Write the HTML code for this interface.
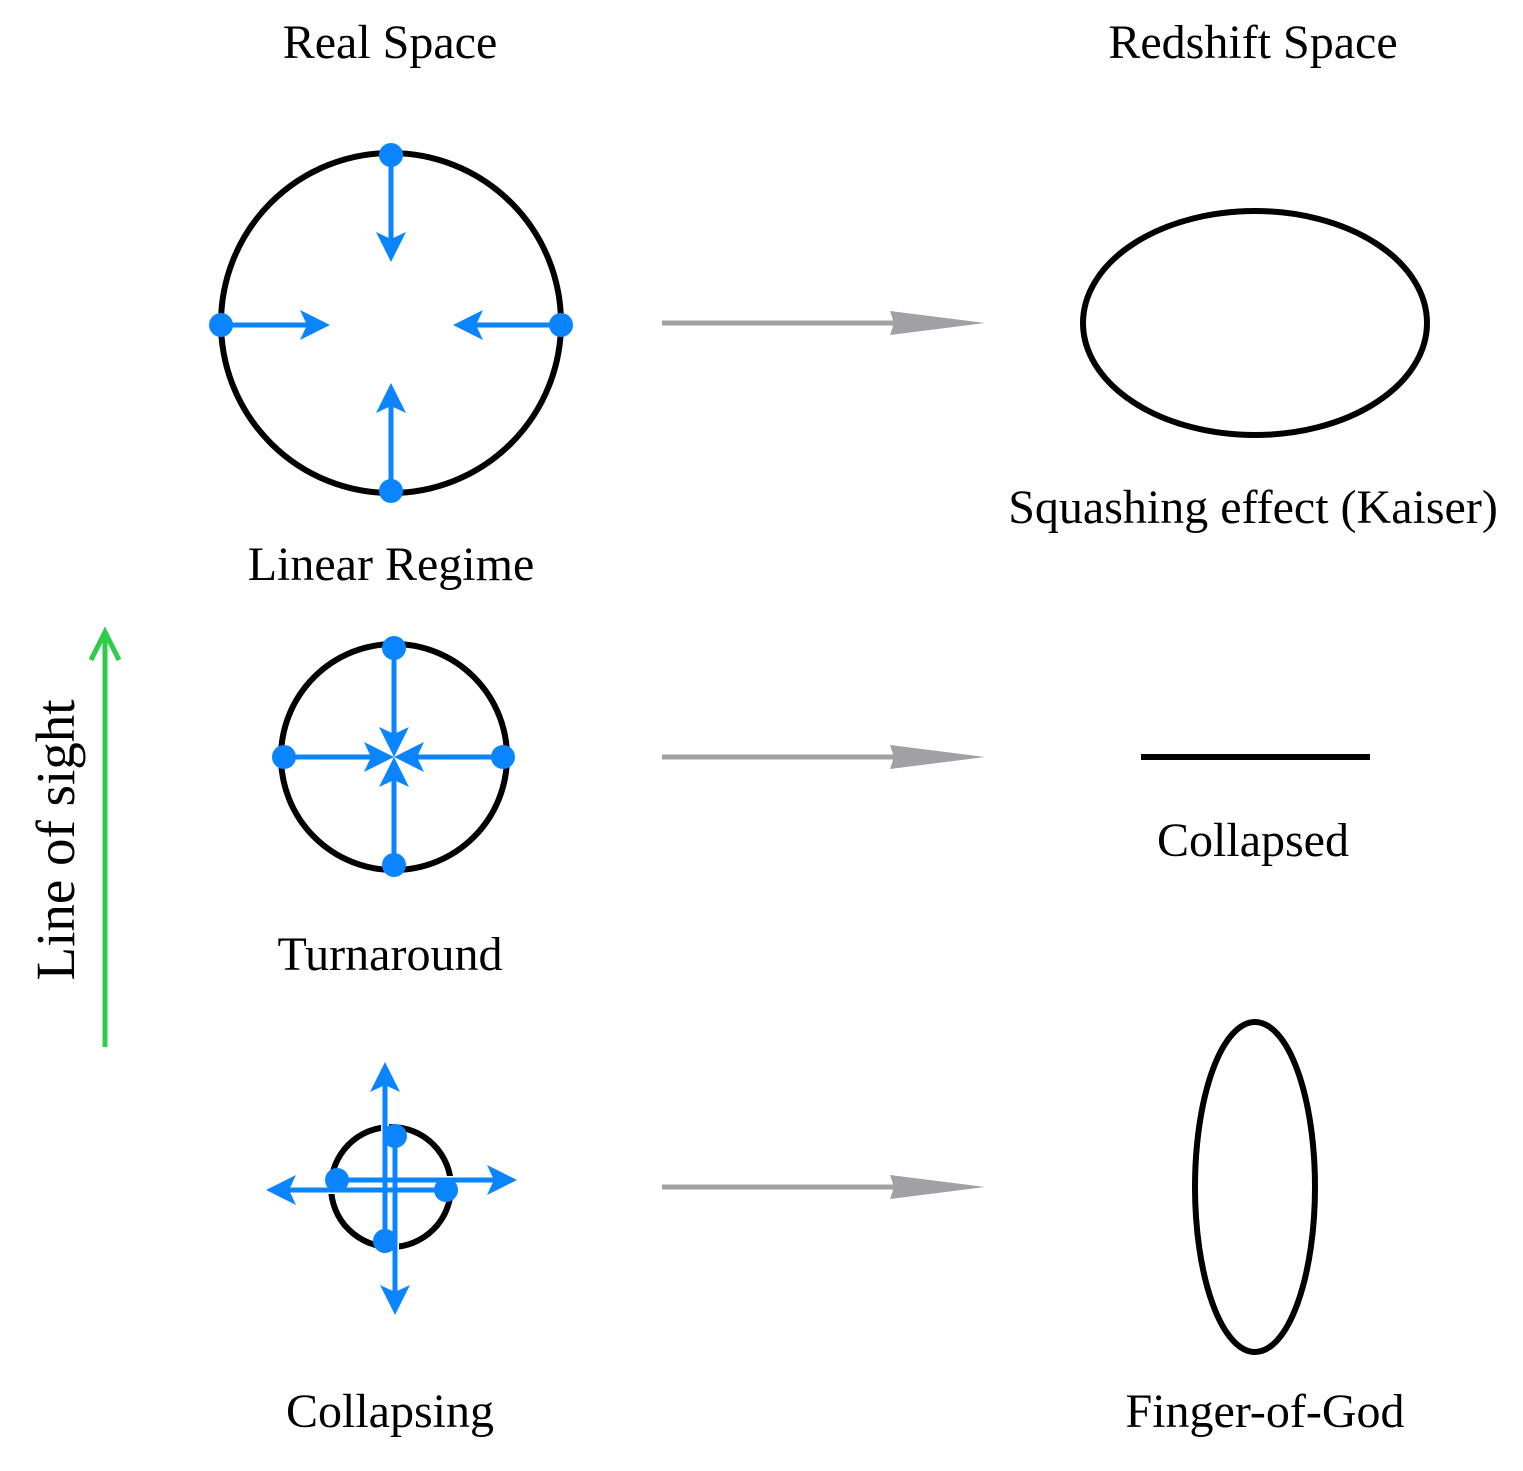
<!DOCTYPE html>
<html><head><meta charset="utf-8"><style>
html,body{margin:0;padding:0;background:#fff}
svg{display:block}
text{font-family:"Liberation Serif",serif;font-size:48px;fill:#000}
</style></head><body>
<svg id="fig" width="1523" height="1471" viewBox="0 0 1523 1471" xmlns="http://www.w3.org/2000/svg">
<text x="390" y="58" text-anchor="middle">Real Space</text>
<text x="1253" y="58" text-anchor="middle">Redshift Space</text>

<circle cx="391" cy="323" r="170" fill="none" stroke="#000" stroke-width="6"/>
<circle cx="394" cy="757" r="113" fill="none" stroke="#000" stroke-width="6"/>
<circle cx="391" cy="1187" r="60" fill="none" stroke="#000" stroke-width="6"/>

<ellipse cx="1255" cy="323" rx="172" ry="112" fill="none" stroke="#000" stroke-width="6"/>
<line x1="1141" y1="757" x2="1370" y2="757" stroke="#000" stroke-width="6"/>
<ellipse cx="1255" cy="1187" rx="60" ry="165" fill="none" stroke="#000" stroke-width="6"/>

<g id="gaps"></g>
<g id="arrows"></g>
<g id="dots"></g>

<text x="391" y="580" text-anchor="middle">Linear Regime</text>
<text x="1253" y="523" text-anchor="middle">Squashing effect (Kaiser)</text>
<text x="390" y="970" text-anchor="middle">Turnaround</text>
<text x="1253" y="856" text-anchor="middle">Collapsed</text>
<text x="390" y="1427" text-anchor="middle">Collapsing</text>
<text x="1265" y="1427" text-anchor="middle">Finger-of-God</text>

<line x1="105" y1="1047" x2="105" y2="634" stroke="#2ecc4a" stroke-width="5"/>
<polyline points="91,660 105,632 119,660" fill="none" stroke="#2ecc4a" stroke-width="5"/>
<text x="0" y="0" text-anchor="middle" transform="translate(74,840) rotate(-90)" style="font-size:55px">Line of sight</text>
</svg>
<script>
// blue velocity arrows: [x1,y1,x2,y2]
const linearArrows=[[391,155,391,262],[221,325,330,325],[561,325,453,325],[391,491,391,383]];
const turnArrows=[[394,648,394,757],[284,757,394,757],[503,757,394,757],[394,865,394,757]];
const collapseArrows=[[395,1136,395,1315],[385,1241,385,1062],[337,1180,517,1180],[446,1190,266,1190]];
const grayArrowRows=[323,757,1187];
const NS="http://www.w3.org/2000/svg";
const g=document.getElementById('arrows');
const gg=document.getElementById('gaps');
const gd=document.getElementById('dots');
function head(x1,y1,x2,y2,len,hw,notch,color,name){
  const dx=x2-x1,dy=y2-y1,L=Math.hypot(dx,dy),ux=dx/L,uy=dy/L,px=-uy,py=ux;
  const bx=x2-ux*len,by=y2-uy*len,nx=x2-ux*(len-notch),ny=y2-uy*(len-notch);
  const p=document.createElementNS(NS,'polygon');
  p.setAttribute('points',`${x2},${y2} ${bx+px*hw},${by+py*hw} ${nx},${ny} ${bx-px*hw},${by-py*hw}`);
  p.setAttribute('fill',color);
  
  
  g.appendChild(p);
  return [nx,ny];
}
function blue(a,name){
  const [x1,y1,x2,y2]=a;
  const [nx,ny]=head(x1,y1,x2,y2,30,15,7,'#0a84ff',name+'-head');
  const l=document.createElementNS(NS,'line');
  l.setAttribute('x1',x1);l.setAttribute('y1',y1);l.setAttribute('x2',nx);l.setAttribute('y2',ny);
  l.setAttribute('stroke','#0a84ff');l.setAttribute('stroke-width','5');
  
  
  g.appendChild(l);
  const c=document.createElementNS(NS,'circle');
  c.setAttribute('cx',x1);c.setAttribute('cy',y1);c.setAttribute('r','12');c.setAttribute('fill','#0a84ff');
  
  
  gd.appendChild(c);
}
collapseArrows.forEach((a,i)=>{
  const l=document.createElementNS(NS,'line');
  l.setAttribute('x1',a[0]);l.setAttribute('y1',a[1]);l.setAttribute('x2',a[2]);l.setAttribute('y2',a[3]);
  l.setAttribute('stroke','#fff');l.setAttribute('stroke-width','8');
  
  
  gg.appendChild(l);
  blue(a,'collapsing-velocity-'+i);
});
linearArrows.forEach((a,i)=>blue(a,'linear-velocity-'+i));
turnArrows.forEach((a,i)=>blue(a,'turnaround-velocity-'+i));
grayArrowRows.forEach((y,i)=>{
  const l=document.createElementNS(NS,'line');
  l.setAttribute('x1',662);l.setAttribute('y1',y);l.setAttribute('x2',895);l.setAttribute('y2',y);
  l.setAttribute('stroke','#a0a0a5');l.setAttribute('stroke-width','5');
  
  
  g.appendChild(l);
  head(662,y,985,y,95,12,4,'#a0a0a5','mapping-arrow-head-'+i);
});
</script>
</body></html>
